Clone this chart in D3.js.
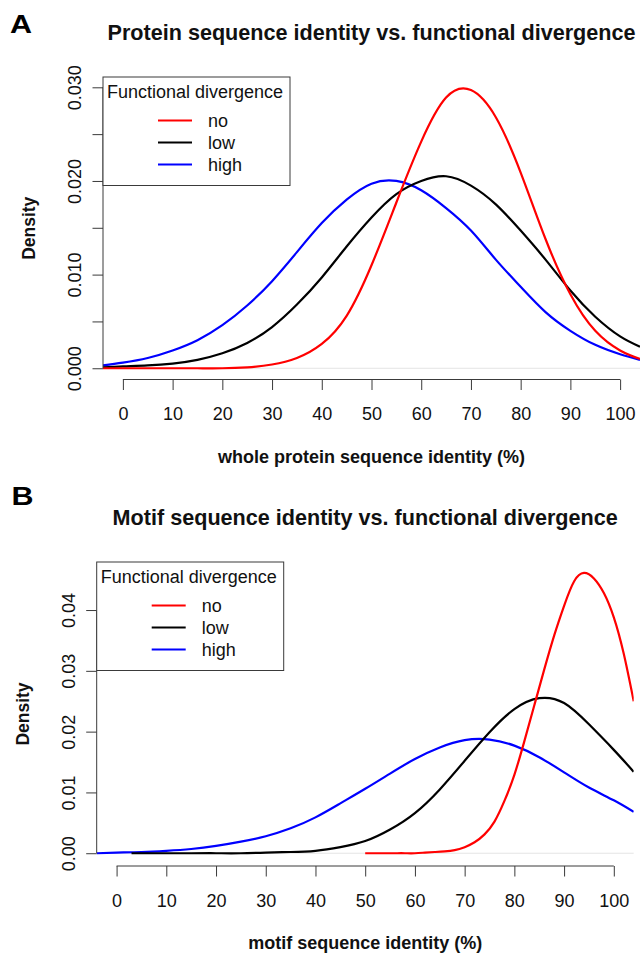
<!DOCTYPE html>
<html>
<head>
<meta charset="utf-8">
<script src="https://cdn.jsdelivr.net/npm/d3@7"></script>
<style>
  body { margin: 0; background: #fff; }
  svg { display: block; font-family: "Liberation Sans", Arial, Helvetica, sans-serif; }
</style>
</head>
<body>
<svg id="fig" width="642" height="954"></svg>
<script>
// ---- panel A: whole protein sequence identity ----
var protX    = [-4, 0, 5, 10, 15, 20, 25, 30, 35, 40, 45, 50, 55, 60, 65, 70, 75, 80, 85, 90, 95, 100, 104];
var protNo   = [0, 0, 0, 0, 0, 0, 0.0001, 0.0004, 0.0011, 0.0026, 0.0056, 0.0110, 0.0177, 0.0242, 0.0289, 0.0297, 0.0268, 0.0209, 0.0138, 0.0079, 0.0040, 0.0019, 0.0010];
var protLow  = [0.0001, 0.0002, 0.0003, 0.0005, 0.0009, 0.0016, 0.0027, 0.0044, 0.0068, 0.0097, 0.0130, 0.0161, 0.0186, 0.0200, 0.0205, 0.0195, 0.0175, 0.0147, 0.0116, 0.0083, 0.0055, 0.0034, 0.0023];
var protHigh = [0.0003, 0.0006, 0.0011, 0.0019, 0.0030, 0.0046, 0.0067, 0.0093, 0.0124, 0.0155, 0.0180, 0.0197, 0.0200, 0.0190, 0.0171, 0.0147, 0.0116, 0.0087, 0.0060, 0.0040, 0.0025, 0.0015, 0.0009];
var protYTicks  = [0, 0.005, 0.01, 0.015, 0.02, 0.025, 0.03];
var protYLabels = [0, 0.01, 0.02, 0.03];

// ---- panel B: motif sequence identity ----
var motifXNo   = [50, 52, 54, 56, 58, 60, 62, 64, 66, 68, 70, 72, 74, 76, 78, 80, 82, 84, 86, 88, 90, 92, 94, 96, 98, 100, 102, 104];
var motifNo    = [0, 0, 0, 0, 0, 0, 0.0001, 0.0002, 0.0003, 0.0005, 0.0010, 0.0018, 0.0031, 0.0052, 0.0086, 0.0129, 0.0184, 0.0243, 0.0302, 0.0358, 0.0407, 0.0447, 0.0461, 0.0452, 0.0428, 0.0388, 0.0328, 0.0250];
var motifXLow  = [3, 5, 10, 15, 20, 25, 30, 35, 40, 45, 50, 55, 60, 65, 70, 75, 80, 85, 90, 95, 100, 104];
var motifLow   = [0, 0, 0, 0, 0, 0, 0.0001, 0.0002, 0.0004, 0.0010, 0.0020, 0.0039, 0.0066, 0.0105, 0.0152, 0.0199, 0.0237, 0.0255, 0.0247, 0.0212, 0.0170, 0.0134];
var motifXHigh = [-4, 0, 5, 10, 15, 20, 25, 30, 35, 40, 45, 50, 55, 60, 65, 70, 75, 80, 85, 90, 95, 100, 104];
var motifHigh  = [0, 0.0001, 0.0002, 0.0004, 0.0007, 0.0012, 0.0019, 0.0028, 0.0041, 0.0059, 0.0082, 0.0106, 0.0131, 0.0155, 0.0174, 0.0186, 0.0187, 0.0177, 0.0158, 0.0133, 0.0108, 0.0087, 0.0068];
var motifYTicks  = [0, 0.01, 0.02, 0.03, 0.04];
var motifYLabels = [0, 0.01, 0.02, 0.03, 0.04];

var xTicks = [0, 10, 20, 30, 40, 50, 60, 70, 80, 90, 100];
var groups = ["no", "low", "high"];
var legendTitle = "Functional divergence";

var colors = { no: "#f00", low: "#000", high: "#00f" };
var axisColor = "#3a3a3a";

var svg = d3.select("#fig");

document.addEventListener('DOMContentLoaded', function() {
    drawPanel({
        id: "A", letter: "A",
        left: 103, right: 640, top: 77, bottom: 379.5,
        yDomain: [-0.0012, 0.0311],
        yTicks: protYTicks, yLabels: protYLabels, fmt: d3.format(".3f"),
        title: "Protein sequence identity vs. functional divergence",
        xTitle: "whole protein sequence identity (%)",
        series: { no: [protX, protNo], low: [protX, protLow], high: [protX, protHigh] }
    });
    drawPanel({
        id: "B", letter: "B",
        left: 96.7, right: 633.7, top: 562, bottom: 866,
        yDomain: [-0.0021, 0.0479],
        yTicks: motifYTicks, yLabels: motifYLabels, fmt: d3.format(".2f"),
        title: "Motif sequence identity vs. functional divergence",
        xTitle: "motif sequence identity (%)",
        series: { no: [motifXNo, motifNo], low: [motifXLow, motifLow], high: [motifXHigh, motifHigh] }
    });
});

function drawPanel(p) {
    var g = svg.append("g").attr("id", "panel-" + p.id);

    var x = d3.scaleLinear().domain([-4, 104]).range([p.left, p.right]);
    var y = d3.scaleLinear().domain(p.yDomain).range([p.bottom, p.top]);

    svg.append("clipPath").attr("id", "clip-" + p.id)
      .append("rect")
        .attr("x", p.left).attr("y", p.top)
        .attr("width", p.right - p.left).attr("height", p.bottom - p.top);

    // faint zero line like plot.density
    g.append("line")
      .attr("x1", p.left).attr("x2", p.right)
      .attr("y1", y(0)).attr("y2", y(0))
      .style("stroke", "#e4e4e4")
      .style("stroke-width", 1);

    var line = d3.line()
      .x(d => x(d[0]))
      .y(d => y(d[1]))
      .curve(d3.curveNatural);

    // draw order: high, low, no (red on top)
    ["high", "low", "no"].forEach(function(k) {
        var s = p.series[k];
        g.append("path")
          .datum(d3.zip(s[0], s[1]))
          .attr("clip-path", "url(#clip-" + p.id + ")")
          .attr("d", line)
          .style("fill", "none")
          .style("stroke", colors[k])
          .style("stroke-width", "2.2px")
          .style("stroke-linejoin", "round");
    });

    // x axis
    var xAxis = g.append("g")
      .attr("transform", "translate(0," + p.bottom + ")")
      .call(d3.axisBottom(x).tickValues(xTicks).tickSize(10.5).tickSizeOuter(0));
    xAxis.select(".domain").remove();
    xAxis.append("line")
      .attr("x1", x(xTicks[0])).attr("x2", x(xTicks[xTicks.length - 1]))
      .style("stroke", axisColor);
    xAxis.selectAll(".tick line").style("stroke", axisColor);
    xAxis.selectAll(".tick text")
      .attr("y", 40.5).attr("dy", 0)
      .style("font-size", "18px")
      .style("fill", "#111")
      .style("font-family", null);

    // y axis
    var yAxis = g.append("g")
      .attr("transform", "translate(" + p.left + ",0)")
      .call(d3.axisLeft(y).tickValues(p.yTicks).tickSize(10.5).tickSizeOuter(0)
        .tickFormat(d => p.yLabels.indexOf(d) >= 0 ? p.fmt(d) : ""));
    yAxis.select(".domain").remove();
    yAxis.append("line")
      .attr("y1", y(p.yTicks[0])).attr("y2", y(p.yTicks[p.yTicks.length - 1]))
      .style("stroke", axisColor);
    yAxis.selectAll(".tick line").style("stroke", axisColor);
    yAxis.selectAll(".tick text")
      .attr("transform", "rotate(-90)")
      .attr("x", 0).attr("y", -22).attr("dy", 0)
      .attr("text-anchor", "middle")
      .style("font-size", "18px")
      .style("fill", "#111")
      .style("font-family", null);

    // titles
    var cx = (p.left + p.right) / 2;
    g.append("text")
      .attr("x", cx).attr("y", p.top - 37.5)
      .attr("text-anchor", "middle")
      .style("font-size", "21.6px")
      .style("font-weight", "bold")
      .style("fill", "#111")
      .text(p.title);

    g.append("text")
      .attr("x", cx).attr("y", p.bottom + 83)
      .attr("text-anchor", "middle")
      .style("font-size", "18px")
      .style("font-weight", "bold")
      .style("fill", "#111")
      .text(p.xTitle);

    g.append("text")
      .attr("transform", "translate(" + (p.left - 68) + "," + ((p.top + p.bottom) / 2) + ") rotate(-90)")
      .attr("text-anchor", "middle")
      .style("font-size", "17.5px")
      .style("font-weight", "bold")
      .style("fill", "#111")
      .text("Density");

    g.append("text")
      .attr("transform", "translate(" + (p.id == "A" ? 10 : 11.5) + "," + (p.top - (p.id == "A" ? 44 : 57)) + ") scale(1.22,1)")
      .style("font-size", "25px")
      .style("font-weight", "bold")
      .style("fill", "#000")
      .text(p.letter);

    // legend (topleft)
    var lg = g.append("g").attr("transform", "translate(" + p.left + "," + p.top + ")");
    lg.append("rect")
      .attr("width", 187).attr("height", 108.5)
      .style("fill", "#fff")
      .style("stroke", axisColor);
    lg.append("text")
      .attr("x", 4).attr("y", 21)
      .style("font-size", "18px")
      .style("fill", "#111")
      .text(legendTitle);
    groups.forEach(function(k, i) {
        var ly = 43.5 + i * 22;
        lg.append("line")
          .attr("x1", 55).attr("x2", 89)
          .attr("y1", ly).attr("y2", ly)
          .style("stroke", colors[k])
          .style("stroke-width", "2.2px");
        lg.append("text")
          .attr("x", 105).attr("y", ly + 6)
          .style("font-size", "18px")
          .style("fill", "#111")
          .text(k);
    });
}
</script>
</body>
</html>
